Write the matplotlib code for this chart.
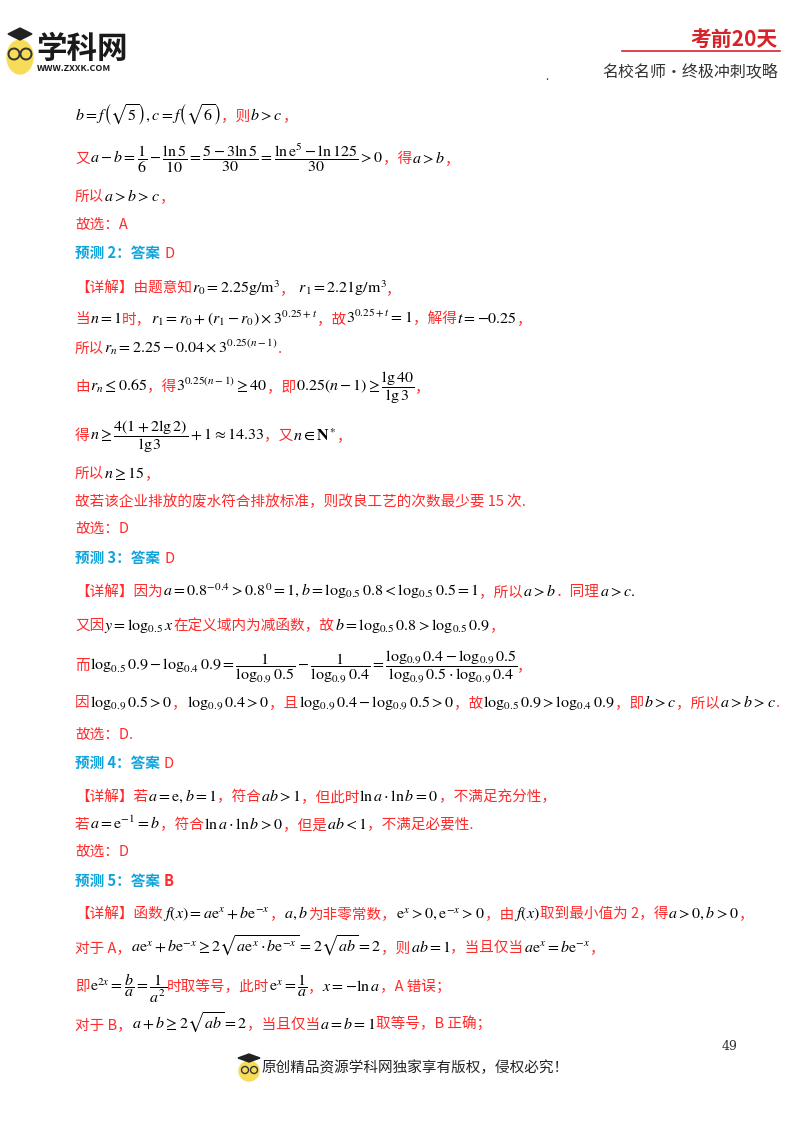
import matplotlib
matplotlib.use("Agg")
import matplotlib.pyplot as plt
from matplotlib.patches import Circle, Ellipse

plt.rcParams["font.family"] = ["Noto Sans CJK SC", "DejaVu Sans"]
plt.rcParams["mathtext.fontset"] = "stix"

RED = "#ff2a2a"
CYAN = "#0fa3dc"
CN_SIZE = 10.5
MATH_SIZE = 11.5
LEFT = 75

# ── page content: (baseline y, segments); "$..$" = black math, else red text ──
LINES = [
    (120, [r"$b=f\left(\sqrt{5}\right),c=f\left(\sqrt{6}\right)$", "，则", r"$b>c$", "，"]),
    (163, ["又", r"$a-b=\dfrac{1}{6}-\dfrac{\ln5}{10}=\dfrac{5-3\ln5}{30}=\dfrac{\ln\mathrm{e}^5-\ln125}{30}>0$", "，得", r"$a>b$", "，"]),
    (201, ["所以", r"$a>b>c$", "，"]),
    (229, ["故选：A"]),
    (293, ["【详解】由题意知", r"$r_0=2.25\mathrm{g/m^3}$", "，", r"$\ r_1=2.21\mathrm{g/m^3}$", "，"]),
    (323, ["当", r"$n=1$", "时，", r"$r_1=r_0+(r_1-r_0)\times3^{0.25+t}$", "，故", r"$3^{0.25+t}=1$", "，解得", r"$t=-0.25$", "，"]),
    (353, ["所以", r"$r_n=2.25-0.04\times3^{0.25(n-1)}$", "."]),
    (391, ["由", r"$r_n\leq0.65$", "，得", r"$3^{0.25(n-1)}\geq40$", "，即", r"$0.25(n-1)\geq\dfrac{\lg40}{\lg3}$", "，"]),
    (440, ["得", r"$n\geq\dfrac{4(1+2\lg2)}{\lg3}+1\approx14.33$", "，又", r"$n\in\mathbf{N}^*$", "，"]),
    (478, ["所以", r"$n\geq15$", "，"]),
    (506, ["故若该企业排放的废水符合排放标准，则改良工艺的次数最少要 15 次."]),
    (533, ["故选：D"]),
    (596, ["【详解】因为", r"$a=0.8^{-0.4}>0.8^0=1,b=\log_{0.5}0.8<\log_{0.5}0.5=1$", "，所以", r"$a>b$", "．同理", r"$a>c.$"]),
    (630, ["又因", r"$y=\log_{0.5}x$", "在定义域内为减函数，故", r"$b=\log_{0.5}0.8>\log_{0.5}0.9$", "，"]),
    (670, ["而", r"$\log_{0.5}0.9-\log_{0.4}0.9=\dfrac{1}{\log_{0.9}0.5}-\dfrac{1}{\log_{0.9}0.4}=\dfrac{\log_{0.9}0.4-\log_{0.9}0.5}{\log_{0.9}0.5\cdot\log_{0.9}0.4}$", "，"]),
    (707, ["因", r"$\log_{0.9}0.5>0$", "，", r"$\log_{0.9}0.4>0$", "，且", r"$\log_{0.9}0.4-\log_{0.9}0.5>0$", "，故", r"$\log_{0.5}0.9>\log_{0.4}0.9$", "，即", r"$b>c$", "，所以", r"$a>b>c$", "."]),
    (739, ["故选：D."]),
    (801, ["【详解】若", r"$a=\mathrm{e},b=1$", "，符合", r"$ab>1$", "，但此时", r"$\ln a\cdot\ln b=0$", "，不满足充分性，"]),
    (829, ["若", r"$a=\mathrm{e}^{-1}=b$", "，符合", r"$\ln a\cdot\ln b>0$", "，但是", r"$ab<1$", "，不满足必要性."]),
    (856, ["故选：D"]),
    (918, ["【详解】函数", r"$f(x)=a\mathrm{e}^x+b\mathrm{e}^{-x}$", "，", r"$a,b$", "为非零常数，", r"$\mathrm{e}^x>0,\mathrm{e}^{-x}>0$", "，由", r"$f(x)$", "取到最小值为 2，得", r"$a>0,b>0$", "，"]),
    (952, ["对于 A，", r"$a\mathrm{e}^x+b\mathrm{e}^{-x}\geq2\sqrt{a\mathrm{e}^x\cdot b\mathrm{e}^{-x}}=2\sqrt{ab}=2$", "，则", r"$ab=1$", "，当且仅当", r"$a\mathrm{e}^x=b\mathrm{e}^{-x}$", "，"]),
    (991, ["即", r"$\mathrm{e}^{2x}=\dfrac{b}{a}=\dfrac{1}{a^2}$", "时取等号，此时", r"$\mathrm{e}^x=\dfrac{1}{a}$", "，", r"$x=-\ln a$", "，A 错误；"]),
    (1029, ["对于 B，", r"$a+b\geq2\sqrt{ab}=2$", "，当且仅当", r"$a=b=1$", "取等号，B 正确；"]),
]

HEADINGS = [(258, "预测 2：答案", "D"), (563, "预测 3：答案", "D"),
            (768, "预测 4：答案", "D"), (886, "预测 5：答案", "B")]

fig = plt.figure(figsize=(8.0, 11.32), dpi=100)
ax = fig.add_axes([0, 0, 1, 1])
ax.set_xlim(0, 800)
ax.set_ylim(1132, 0)
ax.axis("off")
renderer = fig.canvas.get_renderer()


def put(x, y, s, **kw):
    t = ax.text(x, y, s, va="baseline", ha="left", **kw)
    return x + t.get_window_extent(renderer).width


def draw_line(y, segs, x=LEFT):
    for s in segs:
        if s.startswith("$"):
            x = put(x, y, s, color="black", fontsize=MATH_SIZE)
        else:
            x = put(x, y, s, color=RED, fontsize=CN_SIZE)


for y, segs in LINES:
    draw_line(y, segs)

for y, head, ans in HEADINGS:
    x = put(LEFT, y, head, color=CYAN, fontsize=CN_SIZE, fontweight="bold")
    put(x + 4, y, ans, color=RED, fontsize=CN_SIZE,
        fontweight="bold" if ans == "B" else "normal")

# ── header ──
ax.add_patch(Ellipse((20, 57), 26, 34, color="#f7dc5a", zorder=1))
ax.add_patch(Circle((14, 54), 5.5, fill=False, ec="#333333", lw=1.4, zorder=2))
ax.add_patch(Circle((26, 54), 5.5, fill=False, ec="#333333", lw=1.4, zorder=2))
ax.fill([8, 20, 32, 20], [34, 28, 34, 40], color="#222222", zorder=3)
put(36, 58, "学科网", color="#1a1a1a", fontsize=22, fontweight="bold")
put(37, 71, "WWW.ZXXK.COM", color="#1a1a1a", fontsize=6.5, fontweight="bold")
ax.text(778, 46, "考前20天", color="#d7222a", fontsize=15, fontweight="bold",
        ha="right", va="baseline")
ax.plot([622, 780], [51, 51], color="#d7222a", lw=1.2)
ax.text(778, 76, "名校名师·终极冲刺攻略", color="#333333", fontsize=11.5,
        ha="right", va="baseline")
ax.text(545, 80, ".", color="#333333", fontsize=8)

# ── footer ──
ax.text(722, 1050, "49", color="#333333", fontsize=9, fontfamily="serif")
ax.add_patch(Circle((249, 1071), 10, color="#f7dc5a", zorder=1))
ax.add_patch(Circle((245, 1070), 3.5, fill=False, ec="#333333", lw=1, zorder=2))
ax.add_patch(Circle((254, 1070), 3.5, fill=False, ec="#333333", lw=1, zorder=2))
ax.fill([238, 249, 260, 249], [1058, 1054, 1058, 1062], color="#222222")
put(261, 1072, "原创精品资源学科网独家享有版权，侵权必究！", color="#222222", fontsize=10.5)

fig.savefig("out.png", dpi=100)
